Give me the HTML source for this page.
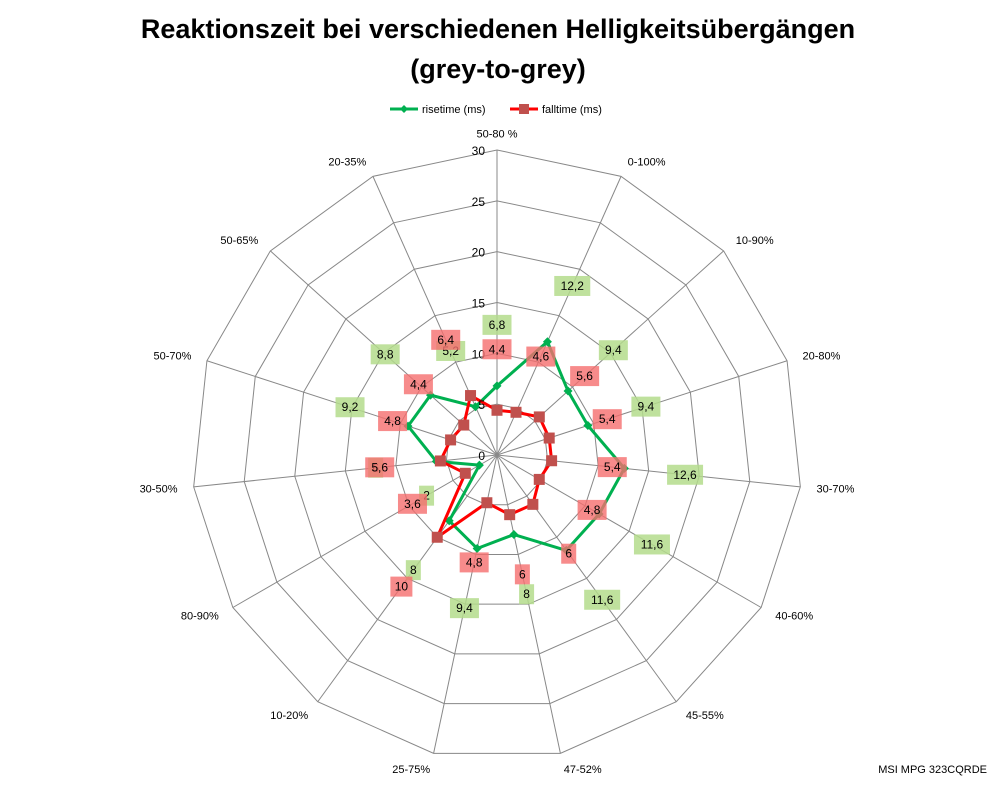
<!DOCTYPE html>
<html><head><meta charset="utf-8"><style>
body{margin:0;background:#fff;font-family:"Liberation Sans",sans-serif}
</style></head><body>
<svg id="c" width="998" height="786" viewBox="0 0 998 786" xmlns="http://www.w3.org/2000/svg">
<rect width="998" height="786" fill="#fff"/>
<text x="498" y="38" text-anchor="middle" font-size="27" font-weight="bold">Reaktionszeit bei verschiedenen Helligkeitsübergängen</text>
<text x="498" y="78" text-anchor="middle" font-size="27" font-weight="bold">(grey-to-grey)</text>
<g font-size="11">
<g><line x1="390" y1="109" x2="418" y2="109" stroke="#00b050" stroke-width="3"/><path d="M404 105 L408 109 L404 113 L400 109Z" fill="#00b050"/><text x="422" y="113">risetime (ms)</text></g>
<g><line x1="510" y1="109" x2="538" y2="109" stroke="#ff0000" stroke-width="3"/><rect x="519" y="104" width="10" height="10" fill="#c0504d"/><text x="542" y="113">falltime (ms)</text></g>
</g>
<g id="grid"></g><g id="series"></g><g id="labels"></g>
<text x="987" y="773" text-anchor="end" font-size="11">MSI MPG 323CQRDE</text>
</svg>
<script>
const categories=["50-80 %","0-100%","10-90%","20-80%","30-70%","40-60%","45-55%","47-52%","25-75%","10-20%","80-90%","30-50%","50-70%","50-65%","20-35%"];
const rise=[6.8,12.2,9.4,9.4,12.6,11.6,11.6,8,9.4,8,2,6,9.2,8.8,5.2];
const fall=[4.4,4.6,5.6,5.4,5.4,4.8,6,6,4.8,10,3.6,5.6,4.8,4.4,6.4];
const ticks=[0,5,10,15,20,25,30];
const NS="http://www.w3.org/2000/svg";
const cx=497,cy=455,R=305,maxV=30;
function rad(v){return v/maxV*R;}
function pt(i,v){const a=(i/categories.length)*2*Math.PI;return [cx+rad(v)*Math.sin(a),cy-rad(v)*Math.cos(a)];}
function mk(tag,attrs,parent){const e=document.createElementNS(NS,tag);for(const k in attrs)e.setAttribute(k,attrs[k]);parent.appendChild(e);return e;}
const grid=document.getElementById('grid'),series=document.getElementById('series'),labels=document.getElementById('labels');
ticks.forEach(t=>{if(t===0)return;const p=categories.map((c,i)=>pt(i,t).join(',')).join(' ');
const g=mk('polygon',{points:p,fill:'none',stroke:'#888','stroke-width':1},grid);

});
categories.forEach((c,i)=>{const [x,y]=pt(i,maxV);const l=mk('line',{x1:cx,y1:cy,x2:x,y2:y,stroke:'#888','stroke-width':1},grid);


const a=(i/categories.length)*2*Math.PI;const [lx,ly]=pt(i,maxV+1.6);
const s=Math.sin(a);const anchor=Math.abs(s)<0.15?'middle':(s>0?'start':'end');
const t=mk('text',{x:lx,y:ly+4,'text-anchor':anchor,'font-size':11},labels);t.textContent=c;

});
ticks.forEach(t=>{const tx=mk('text',{x:cx-12,y:cy-rad(t)+5,'text-anchor':'end','font-size':12},labels);tx.textContent=t;

});
function drawSeries(vals,color,marker,name,lblColor){
const p=vals.map((v,i)=>pt(i,v).join(',')).join(' ');
const pl=mk('polygon',{points:p,fill:'none',stroke:color,'stroke-width':3,'stroke-linejoin':'round'},series);


vals.forEach((v,i)=>{const [x,y]=pt(i,v);let m;
if(marker==='sq'){m=mk('rect',{x:x-5.5,y:y-5.5,width:11,height:11,fill:'#c0504d'},series);}
else{m=mk('path',{d:`M${x} ${y-4.5}L${x+4.5} ${y}L${x} ${y+4.5}L${x-4.5} ${y}Z`,fill:'#00b050'},series);}


const [lx,ly]=pt(i,v+6);const txt=String(v).replace('.',',');const w=txt.length*7+8;
const bg=mk('rect',{x:lx-w/2,y:ly-10,width:w,height:20,fill:lblColor},labels);


const t=mk('text',{x:lx,y:ly+4,'text-anchor':'middle','font-size':12},labels);t.textContent=txt;

});}
drawSeries(rise,'#00b050','dia','risetime','rgba(180,220,140,0.85)');
drawSeries(fall,'#ff0000','sq','falltime','rgba(245,110,110,0.8)');
</script>
</body></html>
